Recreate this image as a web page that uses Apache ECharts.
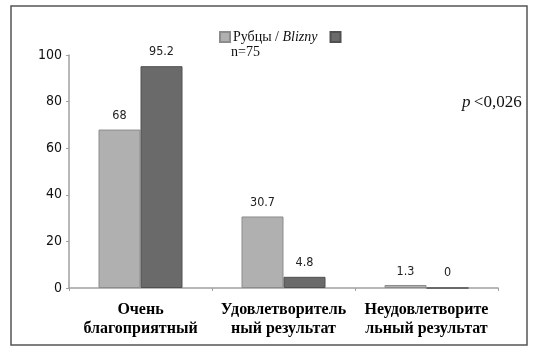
<!DOCTYPE html>
<html lang="ru">

<head>
    <meta charset="UTF-8">
    <title>Рубцы</title>
    <style>
        html, body { margin: 0; padding: 0; background: #fff; }
    </style>
</head>

<body>
    <div id="main" style="width: 540px; height: 353px"></div>
    <script src="https://cdn.jsdelivr.net/npm/echarts@6/dist/echarts.min.js"></script>
    <script type="text/javascript">
        var categories = ['Очень\nблагоприятный', 'Удовлетворитель\nный результат', 'Неудовлетворите\nльный результат'];
        var scarsValues = [68, 30.7, 1.3];
        var otherValues = [95.2, 4.8, 0];
        var yTicks = [0, 20, 40, 60, 80, 100];

        var myChart = echarts.init(document.getElementById('main'));

        var labelFont = '"DejaVu Sans Condensed", "Liberation Sans Narrow", sans-serif';

        var option = {
            animation: false,
            grid: { left: 69, right: 42, top: 55, bottom: 65 },
            legend: {
                left: 217,
                top: 28,
                padding: 2,
                itemWidth: 10,
                itemHeight: 10,
                itemGap: 12,
                icon: 'rect',
                data: ['scars', 'other'],
                formatter: function (name) {
                    return name === 'scars' ? '{a|Рубцы / }{b|Blizny}' : '';
                },
                textStyle: {
                    fontFamily: '"Liberation Serif", "Times New Roman", serif',
                    fontSize: 14,
                    color: '#111',
                    padding: [0, 0, 0, -2],
                    rich: {
                        a: { fontFamily: '"Liberation Serif", serif', fontSize: 14, color: '#111' },
                        b: { fontFamily: '"Liberation Serif", serif', fontSize: 14, fontStyle: 'italic', color: '#111' }
                    }
                }
            },
            xAxis: {
                type: 'category',
                data: categories,
                axisLine: { lineStyle: { color: '#a0a0a0', width: 1.5 } },
                axisTick: { show: true, length: 3, lineStyle: { color: '#a0a0a0' } },
                axisLabel: {
                    margin: 12,
                    interval: 0,
                    fontFamily: '"Liberation Serif", "Times New Roman", serif',
                    fontWeight: 'bold',
                    fontSize: 16,
                    lineHeight: 19,
                    color: '#000'
                }
            },
            yAxis: {
                type: 'value',
                min: 0,
                max: 100,
                interval: 20,
                splitLine: { show: false },
                axisLine: { show: true, lineStyle: { color: '#a0a0a0', width: 1.5 } },
                axisTick: { show: true, length: 3, lineStyle: { color: '#a0a0a0' } },
                axisLabel: {
                    margin: 7,
                    fontFamily: labelFont,
                    fontSize: 14,
                    color: '#111',
                    formatter: function (v) { return yTicks.indexOf(v) >= 0 ? v : ''; }
                }
            },
            series: [{
                name: 'scars',
                type: 'bar',
                data: scarsValues,
                barWidth: 42,
                barGap: '0%',
                itemStyle: { color: '#b0b0b0', borderColor: '#8c8c8c', borderWidth: 1 },
                label: {
                    show: true,
                    position: 'top',
                    distance: 7,
                    fontFamily: labelFont,
                    fontSize: 12.5,
                    color: '#222'
                }
            }, {
                name: 'other',
                type: 'bar',
                data: otherValues,
                barWidth: 42,
                itemStyle: { color: '#6a6a6a', borderColor: '#505050', borderWidth: 1 },
                label: {
                    show: true,
                    position: 'top',
                    distance: 8,
                    fontFamily: labelFont,
                    fontSize: 12.5,
                    color: '#222'
                }
            }],
            graphic: [{
                type: 'rect',
                shape: { x: 11, y: 6, width: 516, height: 339 },
                style: { fill: 'none', stroke: '#555', lineWidth: 1.5 },
                silent: true
            }, {
                type: 'text',
                left: 231,
                top: 45,
                style: {
                    text: 'n=75',
                    font: '14px "Liberation Serif", serif',
                    fill: '#111'
                }
            }, {
                type: 'text',
                left: 462,
                top: 94,
                style: {
                    text: '{p|p} {t|<0,026}',
                    rich: {
                        p: { font: 'italic 17px "Liberation Serif", serif', fill: '#111' },
                        t: { font: '17px "Liberation Serif", serif', fill: '#111' }
                    }
                }
            }]
        };
        myChart.setOption(option);
    </script>

</body>

</html>
